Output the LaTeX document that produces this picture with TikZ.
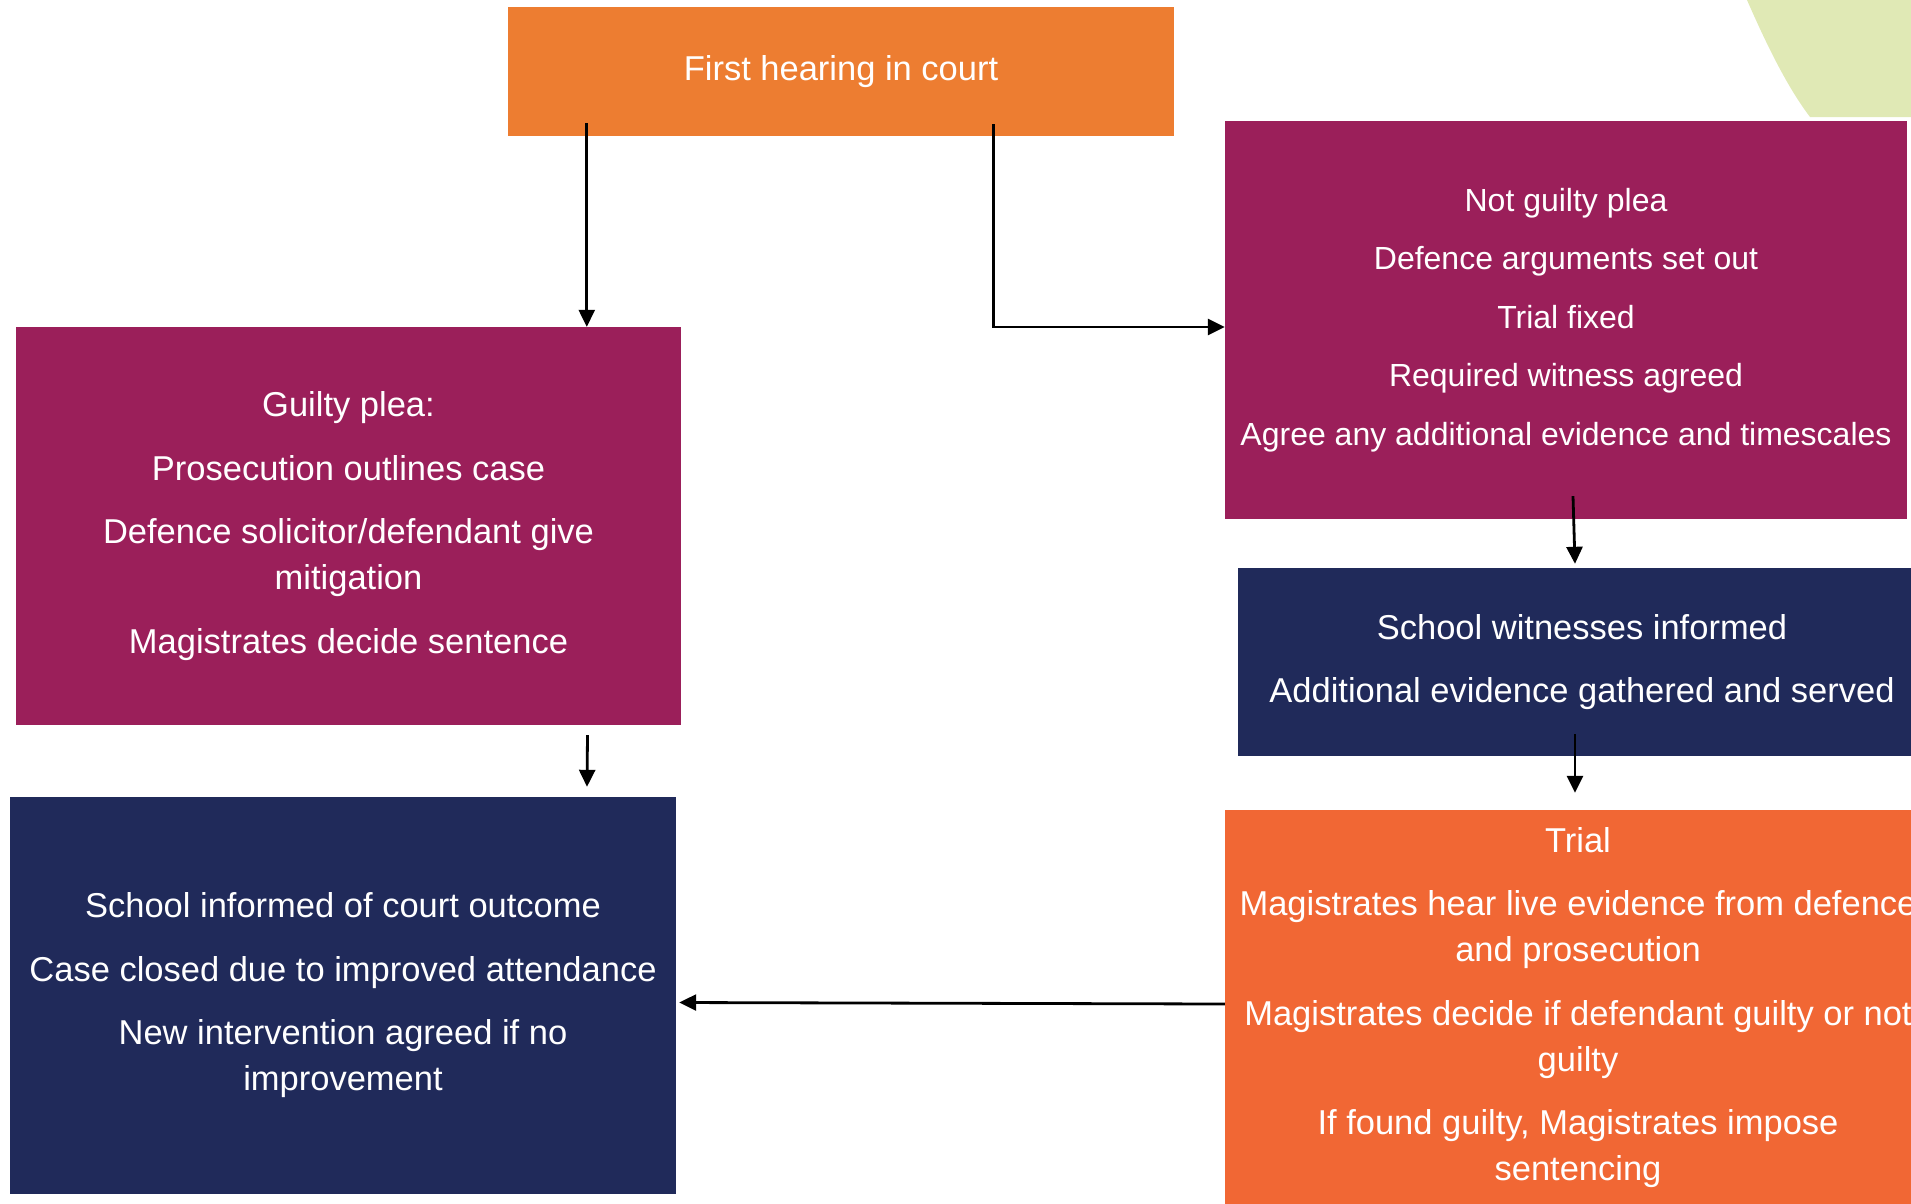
\documentclass[tikz,border=0pt]{standalone}
\usepackage{fontspec}
\setmainfont{Liberation Sans}
\usetikzlibrary{positioning, arrows.meta}
\definecolor{hearingorange}{HTML}{ED7D31}
\definecolor{pleaplum}{HTML}{9B1F5A}
\definecolor{stepnavy}{HTML}{202A5A}
\definecolor{trialorange}{HTML}{F16734}
\definecolor{cornergreen}{HTML}{E0E9B5}

\begin{document}
\begin{tikzpicture}[x=1pt,y=1pt,on grid,
  box/.style={rectangle, inner sep=0pt, text=white, align=center,
    font=\fontsize{34.5}{46.3}\selectfont},
  arr/.style={-{Triangle[width=16pt,length=17pt]}, line width=2.8pt}]
  \useasboundingbox (0,0) rectangle (1911,-1203);
  \clip (0,0) rectangle (1911,-1203);
  % corner decoration
  \fill[cornergreen] (1747,0) .. controls (1768,-48) and (1788,-88) .. (1810,-117)
    -- (1911,-117) -- (1911,0) -- cycle;

  \node[box, fill=hearingorange, minimum width=666pt, minimum height=129pt]
    (first) at (841,-71.5) {First hearing in court};
  \node[box, fill=pleaplum, minimum width=665pt, minimum height=398pt]
    (guilty) [below left=454.5pt and 492.5pt of first]
    {Guilty plea:\\[17pt]Prosecution outlines case\\[17pt]Defence solicitor/defendant give\\mitigation\\[17pt]Magistrates decide sentence};
  \node[box, fill=pleaplum, minimum width=682pt, minimum height=398pt,
    font=\fontsize{32}{58.5}\selectfont]
    (notguilty) [below right=248.5pt and 725pt of first]
    {Not guilty plea\\Defence arguments set out\\Trial fixed\\Required witness agreed\\Agree any additional evidence and timescales};
  \node[box, fill=stepnavy, minimum width=688pt, minimum height=188pt]
    (witness) [below=342pt of notguilty, xshift=16pt]
    {School witnesses informed\\[17pt]Additional evidence gathered and served};
  \node[box, fill=trialorange, minimum width=706pt, minimum height=394pt,
    text depth=6pt]
    (trial) [below=345pt of witness, xshift=-4pt]
    {Trial\\[17pt]Magistrates hear live evidence from defence\\and prosecution\\[17pt]Magistrates decide if defendant guilty or not\\guilty\\[17pt]If found guilty, Magistrates impose\\sentencing};
  \node[box, fill=stepnavy, minimum width=666pt, minimum height=397pt]
    (school) [below=469.5pt of guilty, xshift=-5.5pt]
    {School informed of court outcome\\[17pt]Case closed due to improved attendance\\[17pt]New intervention agreed if no\\improvement};

  \draw[arr] ([xshift=79pt,yshift=13pt]first.south west) -- ([xshift=79pt]first.south west |- guilty.north);
  \draw[arr] ([xshift=-181pt,yshift=12pt]first.south east) |- ([yshift=-7pt]notguilty.west);
  \draw[arr] ([xshift=7pt,yshift=23pt]notguilty.south) -- ([xshift=-7pt,yshift=4pt]witness.north);
  \draw[arr] ([xshift=-7pt,yshift=22pt]witness.south) -- ([xshift=-3pt,yshift=17pt]trial.north);
  \draw[arr] ([xshift=239pt,yshift=-10pt]guilty.south) -- ([xshift=244pt,yshift=10pt]school.north);
  \draw[arr] ([yshift=3pt]trial.west) -- ([xshift=3pt,yshift=-7pt]school.east);
\end{tikzpicture}
\end{document}
